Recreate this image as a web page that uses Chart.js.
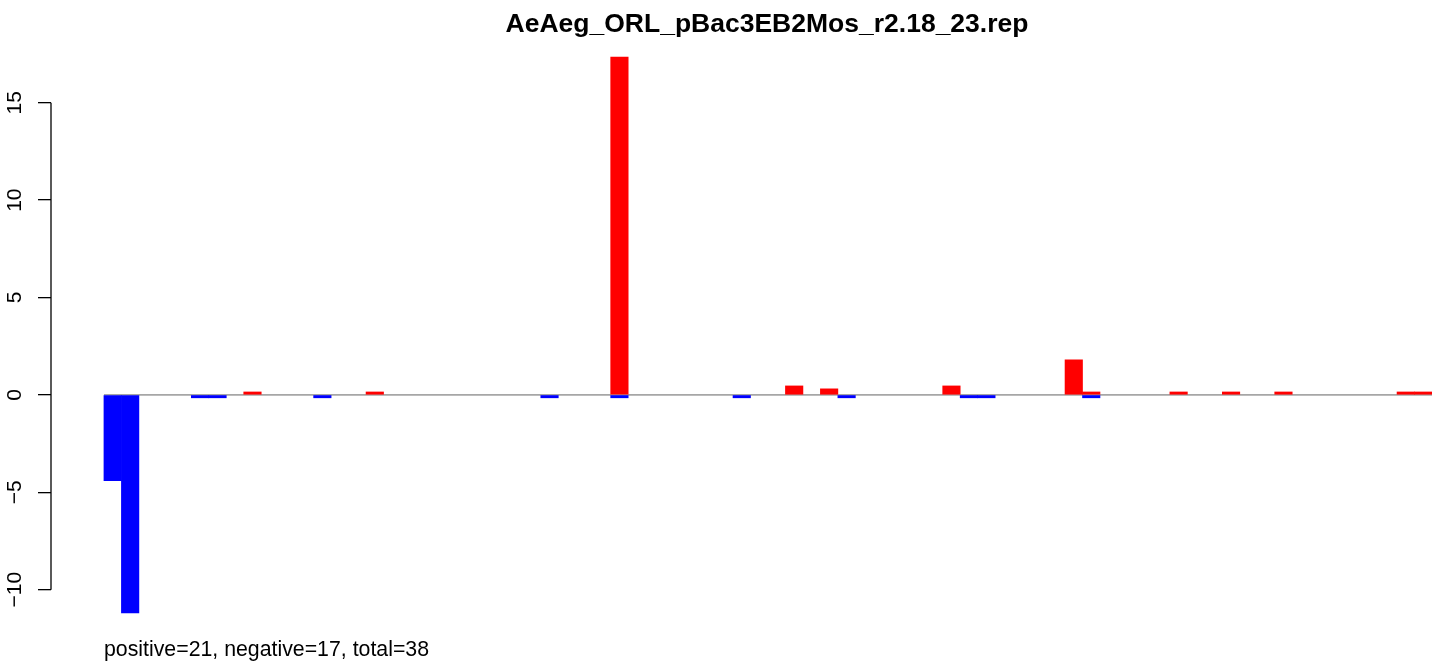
<!DOCTYPE html>
<html>
<head>
<meta charset="utf-8">
<title>AeAeg_ORL_pBac3EB2Mos_r2.18_23.rep</title>
<script src="https://cdn.jsdelivr.net/npm/chart.js@4.4.1/dist/chart.umd.min.js"></script>
<style>
  html, body { margin: 0; padding: 0; background: #fff; }
  #wrap { width: 1444px; height: 666px; position: relative; }
</style>
</head>
<body>
<div id="wrap"><canvas id="grafico"></canvas></div>
<script>
// ---------- Dados ----------
const TITLE = 'AeAeg_ORL_pBac3EB2Mos_r2.18_23.rep';
const SUBTITLE = 'positive=21, negative=17, total=38';

// one value per column (76 columns)
const positive = [
  0, 0, 0, 0, 0, 0, 0, 0, 0.15, 0,
  0, 0, 0, 0, 0, 0.15, 0, 0, 0, 0,
  0, 0, 0, 0, 0, 0, 0, 0, 0, 17.34,
  0, 0, 0, 0, 0, 0, 0, 0, 0, 0.46,
  0, 0.31, 0, 0, 0, 0, 0, 0, 0.46, 0,
  0, 0, 0, 0, 0, 1.8, 0.15, 0, 0, 0,
  0, 0.15, 0, 0, 0.15, 0, 0, 0.15, 0, 0,
  0, 0, 0, 0, 0.15, 0.15
];
const negative = [
  -4.41, -11.19, 0, 0, 0, -0.15, -0.15, 0, 0, 0,
  0, 0, -0.15, 0, 0, 0, 0, 0, 0, 0,
  0, 0, 0, 0, 0, -0.15, 0, 0, 0, -0.15,
  0, 0, 0, 0, 0, 0, -0.15, 0, 0, 0,
  0, 0, -0.15, 0, 0, 0, 0, 0, 0, -0.15,
  -0.15, 0, 0, 0, 0, 0, -0.15, 0, 0, 0,
  0, 0, 0, 0, 0, 0, 0, 0, 0, 0,
  0, 0, 0, 0, 0, 0
];
const yTicks = [-10, -5, 0, 5, 10, 15];
const yMin = -12.33, yMax = 18.48;
const xMin = -3.03, xMax = 76;

const FONT = "'Liberation Sans', Arial, Helvetica, sans-serif";

// ---------- Plugin: partes no estilo R ----------
const rStyle = {
  id: 'rStyle',
  beforeDatasetsDraw(chart){
    const { ctx, scales: { x, y } } = chart;
    const y0 = y.getPixelForValue(0);
    ctx.save();
    ctx.strokeStyle = '#a6a6a6';
    ctx.lineWidth = 1.6;
    ctx.beginPath();
    ctx.moveTo(x.getPixelForValue(0), y0);
    ctx.lineTo(x.getPixelForValue(positive.length), y0);
    ctx.stroke();
    ctx.restore();
  },
  afterDraw(chart){
    const { ctx, chartArea, scales: { y } } = chart;
    ctx.save();
    // eixo y (só entre o primeiro e o último tick)
    ctx.strokeStyle = '#000';
    ctx.lineWidth = 1.3;
    ctx.beginPath();
    ctx.moveTo(chartArea.left, y.getPixelForValue(yTicks[0]));
    ctx.lineTo(chartArea.left, y.getPixelForValue(yTicks[yTicks.length-1]));
    ctx.stroke();
    // rótulos girados
    ctx.fillStyle = '#000';
    ctx.font = '21px ' + FONT;
    ctx.textAlign = 'center';
    ctx.textBaseline = 'alphabetic';
    for(const v of yTicks){
      ctx.save();
      ctx.translate(21, y.getPixelForValue(v));
      ctx.rotate(-Math.PI/2);
      ctx.fillText(String(v).replace('-', '\u2212'), 0, 0);
      ctx.restore();
    }
    // título
    ctx.font = 'bold 26.5px ' + FONT;
    ctx.fillText(TITLE, 767, 32);
    // texto de baixo
    ctx.font = '21.3px ' + FONT;
    ctx.textAlign = 'left';
    ctx.fillText(SUBTITLE, 104, 656);
    ctx.restore();
  }
};

// ---------- Gráfico ----------
// zero -> null, para não desenhar barras de altura zero
const toPoints = (arr) => arr.map((v, i) => ({ x: i + 0.5, y: v === 0 ? null : v }));

new Chart(document.getElementById('grafico'), {
  type: 'bar',
  data: {
    datasets: [
      { label: 'positive', data: toPoints(positive), backgroundColor: '#ff0000',
        borderWidth: 0, barPercentage: 1, categoryPercentage: 1 },
      { label: 'negative', data: toPoints(negative), backgroundColor: '#0000ff',
        borderWidth: 0, barPercentage: 1, categoryPercentage: 1 }
    ]
  },
  options: {
    responsive: true,
    maintainAspectRatio: false,
    animation: false,
    layout: { padding: { top: 35, bottom: 31, left: 0, right: 12 } },
    scales: {
      x: {
        type: 'linear', min: xMin, max: xMax, stacked: true,
        display: false, offset: false
      },
      y: {
        min: yMin, max: yMax, stacked: true,
        afterBuildTicks: (s) => { s.ticks = yTicks.map(v => ({ value: v })); },
        afterFit: (s) => { s.width = 51; },
        ticks: { display: false },
        border: { display: false },
        grid: { drawOnChartArea: false, drawTicks: true, tickLength: 13, color: '#000', lineWidth: 1.3 }
      }
    },
    plugins: {
      legend: { display: false },
      title: { display: false },
      tooltip: { enabled: false }
    }
  },
  plugins: [rStyle]
});
</script>
</body>
</html>
